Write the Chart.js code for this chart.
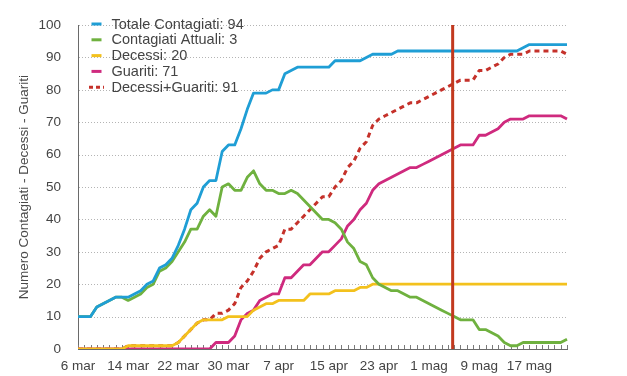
<!DOCTYPE html>
<html lang="it">
<head>
<meta charset="utf-8">
<title>Contagiati - Decessi - Guariti</title>
<script src="https://cdn.jsdelivr.net/npm/chart.js@4.4.1/dist/chart.umd.min.js"></script>
<style>
  html, body { margin: 0; padding: 0; background: #ffffff; }
  #wrap { position: relative; width: 627px; height: 376px; }
</style>
</head>
<body>
<div id="wrap"><canvas id="chart" width="627" height="376"></canvas></div>
<script>
/* ============================================
   DATI - un valore al giorno, 6 mar -> 23 mag
   ============================================ */
const mesi = ['gen', 'feb', 'mar', 'apr', 'mag', 'giu'];
const giorni = [];
for (let d = new Date(2020, 2, 6, 12); giorni.length < 79; d.setDate(d.getDate() + 1)) {
  giorni.push(d.getDate() + ' ' + mesi[d.getMonth()]);
}

// Etichette mostrate sull'asse x
const tickLabels = ['6 mar', '14 mar', '22 mar', '30 mar', '7 apr', '15 apr', '23 apr', '1 mag', '9 mag', '17 mag'];

// Linea verticale rossa
const giornoMarcato = '5 mag';

const totaleContagiati = [
  10, 10, 10, 13, 14, 15, 16, 16, 16, 17,
  18, 20, 21, 25, 26, 28, 32, 37, 43, 45,
  50, 52, 52, 61, 63, 63, 68, 74, 79, 79,
  79, 80, 80, 85, 86, 87, 87, 87, 87, 87,
  87, 89, 89, 89, 89, 89, 90, 91, 91, 91,
  91, 92, 92, 92, 92, 92, 92, 92, 92, 92,
  92, 92, 92, 92, 92, 92, 92, 92, 92, 92,
  92, 93, 94, 94, 94, 94, 94, 94, 94
];

const contagiatiAttuali = [
  10, 10, 10, 13, 14, 15, 16, 16, 15, 16,
  17, 19, 20, 24, 25, 27, 30, 33, 37, 37,
  41, 43, 41, 50, 51, 49, 49, 53, 55, 51,
  49, 49, 48, 48, 49, 48, 46, 44, 42, 40,
  40, 39, 37, 33, 31, 27, 26, 22, 20, 19,
  18, 18, 17, 16, 16, 15, 14, 13, 12, 11,
  10, 9, 9, 9, 6, 6, 5, 4, 2, 1,
  1, 2, 2, 2, 2, 2, 2, 2, 3
];

const decessi = [
  0, 0, 0, 0, 0, 0, 0, 0, 1, 1,
  1, 1, 1, 1, 1, 1, 2, 4, 6, 8,
  9, 9, 9, 9, 10, 10, 10, 10, 12, 13,
  14, 14, 15, 15, 15, 15, 15, 17, 17, 17,
  17, 18, 18, 18, 18, 19, 19, 20, 20, 20,
  20, 20, 20, 20, 20, 20, 20, 20, 20, 20,
  20, 20, 20, 20, 20, 20, 20, 20, 20, 20,
  20, 20, 20, 20, 20, 20, 20, 20, 20
];

const guariti = [
  0, 0, 0, 0, 0, 0, 0, 0, 0, 0,
  0, 0, 0, 0, 0, 0, 0, 0, 0, 0,
  0, 0, 2, 2, 2, 4, 9, 11, 12, 15,
  16, 17, 17, 22, 22, 24, 26, 26, 28, 30,
  30, 32, 34, 38, 40, 43, 45, 49, 51, 52,
  53, 54, 55, 56, 56, 57, 58, 59, 60, 61,
  62, 63, 63, 63, 66, 66, 67, 68, 70, 71,
  71, 71, 72, 72, 72, 72, 72, 72, 71
];

const decessiGuariti = [
  0, 0, 0, 0, 0, 0, 0, 0, 1, 1,
  1, 1, 1, 1, 1, 1, 2, 4, 6, 8,
  9, 9, 11, 11, 12, 14, 19, 21, 24, 28,
  30, 31, 32, 37, 37, 39, 41, 43, 45, 47,
  47, 50, 52, 56, 58, 62, 64, 69, 71, 72,
  73, 74, 75, 76, 76, 77, 78, 79, 80, 81,
  82, 83, 83, 83, 86, 86, 87, 88, 90, 91,
  91, 91, 92, 92, 92, 92, 92, 92, 91
];

/* ============================================
   PLUGIN: griglia, tacche, linea rossa, legenda
   ============================================ */
const FONT = "'Liberation Sans', Arial, Helvetica, sans-serif";

const extrasPlugin = {
  id: 'extras',
  beforeDatasetsDraw(chart) {
    const { ctx, chartArea, scales: { x, y } } = chart;
    ctx.save();
    // griglia orizzontale a puntini
    ctx.strokeStyle = '#b4b4b4';
    ctx.lineWidth = 1;
    ctx.setLineDash([1, 2]);
    y.ticks.forEach(t => {
      if (t.value === 0) return;
      const py = Math.round(y.getPixelForValue(t.value)) + 0.5;
      ctx.beginPath();
      ctx.moveTo(chartArea.left + 1, py);
      ctx.lineTo(chartArea.right, py);
      ctx.stroke();
    });
    ctx.setLineDash([]);
    // tacche giornaliere sull'asse x
    ctx.strokeStyle = '#7a7a7a';
    giorni.forEach((g, i) => {
      const px = Math.round(x.getPixelForValue(i)) + 0.5;
      ctx.beginPath();
      ctx.moveTo(px, chartArea.bottom);
      ctx.lineTo(px, chartArea.bottom - 4);
      ctx.stroke();
    });
    ctx.restore();
  },
  afterDatasetsDraw(chart) {
    const { ctx, chartArea, scales: { x } } = chart;
    const xr = x.getPixelForValue(giorni.indexOf(giornoMarcato)) - 1.5;
    ctx.save();
    ctx.strokeStyle = '#c2391f';
    ctx.lineWidth = 3;
    ctx.beginPath();
    ctx.moveTo(xr, chartArea.top);
    ctx.lineTo(xr, chartArea.bottom);
    ctx.stroke();
    ctx.restore();
  },
  afterDraw(chart) {
    const { ctx } = chart;
    ctx.save();
    ctx.font = '14.5px ' + FONT;
    ctx.textBaseline = 'middle';
    chart.data.datasets.forEach((ds, i) => {
      const y = 24 + i * 15.8;
      ctx.strokeStyle = ds.borderColor;
      ctx.lineWidth = 3;
      ctx.setLineDash(ds.borderDash ? [4, 3] : []);
      ctx.beginPath();
      ctx.moveTo(ds.borderDash ? 89 : 91.5, y);
      ctx.lineTo(ds.borderDash ? 104 : 101.5, y);
      ctx.stroke();
      ctx.setLineDash([]);
      ctx.fillStyle = '#444444';
      ctx.fillText(ds.label + ': ' + ds.data[ds.data.length - 1], 111.5, y + 0.5);
    });
    ctx.restore();
  }
};

/* ============================================
   GRAFICO
   ============================================ */
const ctx = document.getElementById('chart').getContext('2d');

new Chart(ctx, {
  type: 'line',
  data: {
    labels: giorni,
    datasets: [
      { label: 'Totale Contagiati', data: totaleContagiati, borderColor: '#1f9ed5', borderWidth: 2.8 },
      { label: 'Contagiati Attuali', data: contagiatiAttuali, borderColor: '#6fb13f', borderWidth: 2.8 },
      { label: 'Decessi', data: decessi, borderColor: '#f3c11d', borderWidth: 2.8 },
      { label: 'Guariti', data: guariti, borderColor: '#cf2a7e', borderWidth: 2.8 },
      { label: 'Decessi+Guariti', data: decessiGuariti, borderColor: '#c5312a', borderWidth: 3, borderDash: [5, 4] }
    ]
  },
  options: {
    responsive: false,
    animation: false,
    devicePixelRatio: 1,
    layout: { padding: { left: 14, right: 60, top: 14, bottom: 0 } },
    elements: {
      point: { radius: 0, hoverRadius: 0 },
      line: { tension: 0, fill: false, borderCapStyle: 'butt', borderJoinStyle: 'round' }
    },
    plugins: {
      legend: { display: false },
      tooltip: { enabled: false }
    },
    scales: {
      x: {
        type: 'category',
        grid: { display: false, drawTicks: false },
        border: { display: true, color: '#6a6a6a', width: 1 },
        ticks: {
          autoSkip: false,
          maxRotation: 0,
          padding: 9,
          color: '#444444',
          font: { size: 13.5, family: FONT },
          callback: function(value, index) {
            return tickLabels.includes(giorni[index]) ? giorni[index] : '';
          }
        },
        afterFit(scale) { scale.height = 27; }
      },
      y: {
        min: 0,
        max: 100,
        grid: { display: false, drawTicks: false },
        border: { display: true, color: '#6a6a6a', width: 1 },
        ticks: {
          stepSize: 10,
          padding: 17,
          color: '#444444',
          font: { size: 13.5, family: FONT }
        },
        title: {
          display: true,
          text: 'Numero Contagiati - Decessi - Guariti',
          color: '#4a4a4a',
          font: { size: 13.5, family: FONT },
          padding: { top: 2, bottom: 0 }
        },
        afterFit(scale) { scale.width = 64; }
      }
    }
  },
  plugins: [extrasPlugin]
});
</script>
</body>
</html>
